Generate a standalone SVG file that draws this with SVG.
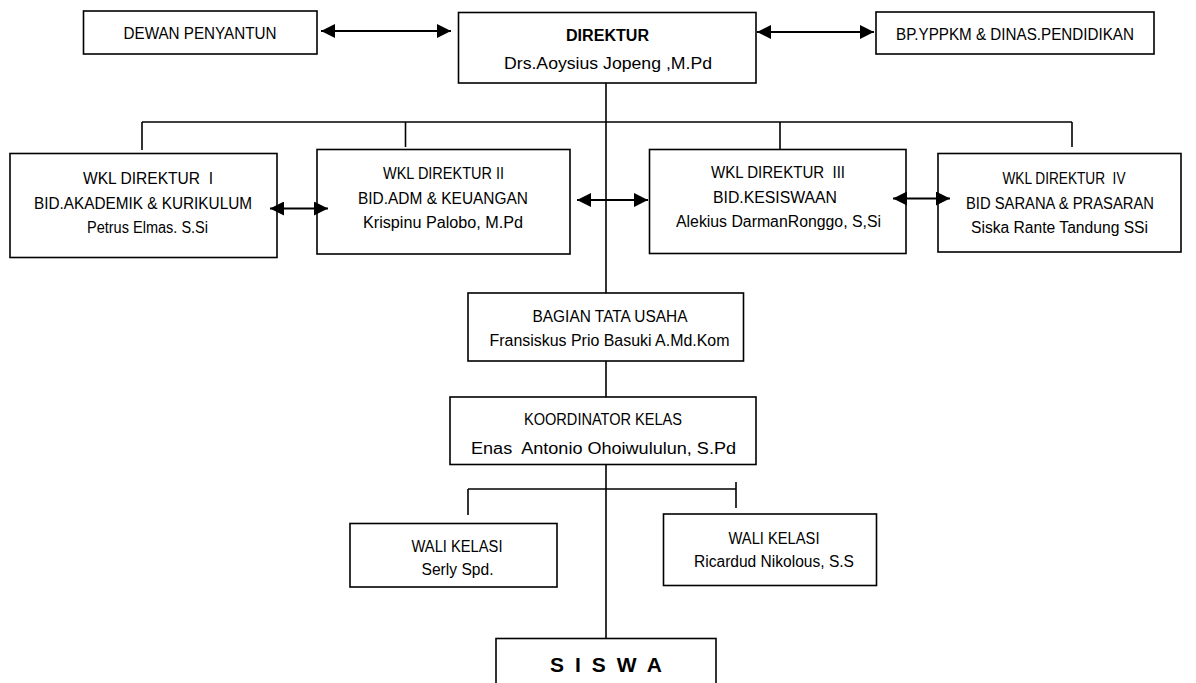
<svg xmlns="http://www.w3.org/2000/svg" width="1196" height="683" viewBox="0 0 1196 683">
<style>
.box{fill:#fff;stroke:#000;stroke-width:1.6}
.ln{fill:none;stroke:#000;stroke-width:1.6}
.ar{fill:none;stroke:#000;stroke-width:1.8;marker-start:url(#ah);marker-end:url(#ah)}
text{font-family:"Liberation Sans",Arial,sans-serif;font-size:16px;fill:#000;text-anchor:middle}
.b{font-weight:bold}
</style>
<defs>
<marker id="ah" viewBox="0 0 14 14" refX="14" refY="7" markerWidth="14" markerHeight="14" markerUnits="userSpaceOnUse" orient="auto-start-reverse">
<path d="M0,0 L14,7 L0,14 z" fill="#000"/>
</marker>
<clipPath id="clipSerly"><rect x="350" y="523" width="207" height="55.5"/></clipPath>
</defs>
<rect width="1196" height="683" fill="#fff"/>
<g id="dewan">
<rect class="box" x="83.5" y="11" width="233.5" height="43"/>
<text x="200" y="39" textLength="153" lengthAdjust="spacingAndGlyphs">DEWAN PENYANTUN</text>
</g>
<g id="direktur">
<rect class="box" x="458.5" y="12.5" width="297.5" height="70.5"/>
<text class="b" x="607.5" y="41" textLength="83" lengthAdjust="spacingAndGlyphs">DIREKTUR</text>
<text x="608" y="69" textLength="208" lengthAdjust="spacingAndGlyphs">Drs.Aoysius Jopeng ,M.Pd</text>
</g>
<g id="bp">
<rect class="box" x="876" y="12" width="278" height="42"/>
<text x="1015" y="40" textLength="238" lengthAdjust="spacingAndGlyphs">BP.YPPKM &amp; DINAS.PENDIDIKAN</text>
</g>
<g id="wkl1">
<rect class="box" x="10" y="153.5" width="267" height="104"/>
<text x="148" y="183.5" textLength="130" lengthAdjust="spacingAndGlyphs" xml:space="preserve">WKL DIREKTUR  I</text>
<text x="143" y="208.5" textLength="218" lengthAdjust="spacingAndGlyphs">BID.AKADEMIK &amp; KURIKULUM</text>
<text x="147.5" y="232.5" textLength="121" lengthAdjust="spacingAndGlyphs">Petrus Elmas. S.Si</text>
</g>
<g id="wkl2">
<rect class="box" x="317" y="149.5" width="253" height="104.5"/>
<text x="443.5" y="178.5" textLength="121" lengthAdjust="spacingAndGlyphs">WKL DIREKTUR II</text>
<text x="443" y="203.5" textLength="170" lengthAdjust="spacingAndGlyphs">BID.ADM &amp; KEUANGAN</text>
<text x="443" y="227.5" textLength="160" lengthAdjust="spacingAndGlyphs">Krispinu Palobo, M.Pd</text>
</g>
<g id="wkl3">
<rect class="box" x="649.5" y="149.5" width="256.5" height="104"/>
<text x="778" y="177.5" textLength="134" lengthAdjust="spacingAndGlyphs" xml:space="preserve">WKL DIREKTUR  III</text>
<text x="775" y="203" textLength="124" lengthAdjust="spacingAndGlyphs">BID.KESISWAAN</text>
<text x="778.5" y="227" textLength="205" lengthAdjust="spacingAndGlyphs">Alekius DarmanRonggo, S,Si</text>
</g>
<g id="wkl4">
<rect class="box" x="938" y="153.5" width="243" height="98.5"/>
<text x="1064" y="183.5" textLength="123" lengthAdjust="spacingAndGlyphs" xml:space="preserve">WKL DIREKTUR  IV</text>
<text x="1060" y="208.5" textLength="188" lengthAdjust="spacingAndGlyphs">BID SARANA &amp; PRASARAN</text>
<text x="1059.5" y="232.5" textLength="177" lengthAdjust="spacingAndGlyphs">Siska Rante Tandung SSi</text>
</g>
<g id="tatausaha">
<rect class="box" x="468" y="293" width="275.5" height="68"/>
<text x="610" y="321.5" textLength="155" lengthAdjust="spacingAndGlyphs">BAGIAN TATA USAHA</text>
<text x="609.5" y="346" textLength="240" lengthAdjust="spacingAndGlyphs">Fransiskus Prio Basuki A.Md.Kom</text>
</g>
<g id="koordinator">
<rect class="box" x="450" y="397" width="306" height="67.5"/>
<text x="603" y="425" textLength="158" lengthAdjust="spacingAndGlyphs">KOORDINATOR KELAS</text>
<text x="603.5" y="453.5" textLength="265" lengthAdjust="spacingAndGlyphs" xml:space="preserve">Enas  Antonio Ohoiwululun, S.Pd</text>
</g>
<g id="walikelas1">
<rect class="box" x="350" y="523.5" width="207" height="63.5"/>
<text x="457" y="551.5" textLength="91" lengthAdjust="spacingAndGlyphs">WALI KELASI</text>
<text x="457.5" y="575" textLength="72" lengthAdjust="spacingAndGlyphs" clip-path="url(#clipSerly)">Serly Spd.</text>
</g>
<g id="walikelas2">
<rect class="box" x="663.5" y="514" width="213" height="71.5"/>
<text x="774" y="543.5" textLength="91" lengthAdjust="spacingAndGlyphs">WALI KELASI</text>
<text x="774" y="566.5" textLength="160" lengthAdjust="spacingAndGlyphs">Ricardud Nikolous, S.S</text>
</g>
<g id="siswa">
<rect class="box" x="496" y="638.5" width="220" height="60"/>
<text class="b" x="606" y="671.5" style="font-size:21px" textLength="112" xml:space="preserve">S I S W A</text>
</g>
<g id="connectors">
<line class="ln" x1="606" y1="83" x2="606" y2="293"/>
<line class="ln" x1="606" y1="361" x2="606" y2="397"/>
<line class="ln" x1="606" y1="464.5" x2="606" y2="638.5"/>
<line class="ln" x1="142" y1="122" x2="1072" y2="122"/>
<line class="ln" x1="142" y1="122" x2="142" y2="150"/>
<line class="ln" x1="405.5" y1="122" x2="405.5" y2="147"/>
<line class="ln" x1="780" y1="122" x2="780" y2="150"/>
<line class="ln" x1="1072" y1="122" x2="1072" y2="147"/>
<line class="ln" x1="468" y1="489" x2="736" y2="489"/>
<line class="ln" x1="468" y1="489" x2="468" y2="515"/>
<line class="ln" x1="736" y1="482" x2="736" y2="508"/>
<line class="ar" x1="321" y1="31" x2="451" y2="31"/>
<line class="ar" x1="757" y1="32" x2="874" y2="32"/>
<line class="ar" x1="270" y1="208.5" x2="328" y2="208.5"/>
<line class="ar" x1="577" y1="200" x2="648" y2="200"/>
<line class="ar" x1="893" y1="198.5" x2="950" y2="198.5"/>
</g>
</svg>
